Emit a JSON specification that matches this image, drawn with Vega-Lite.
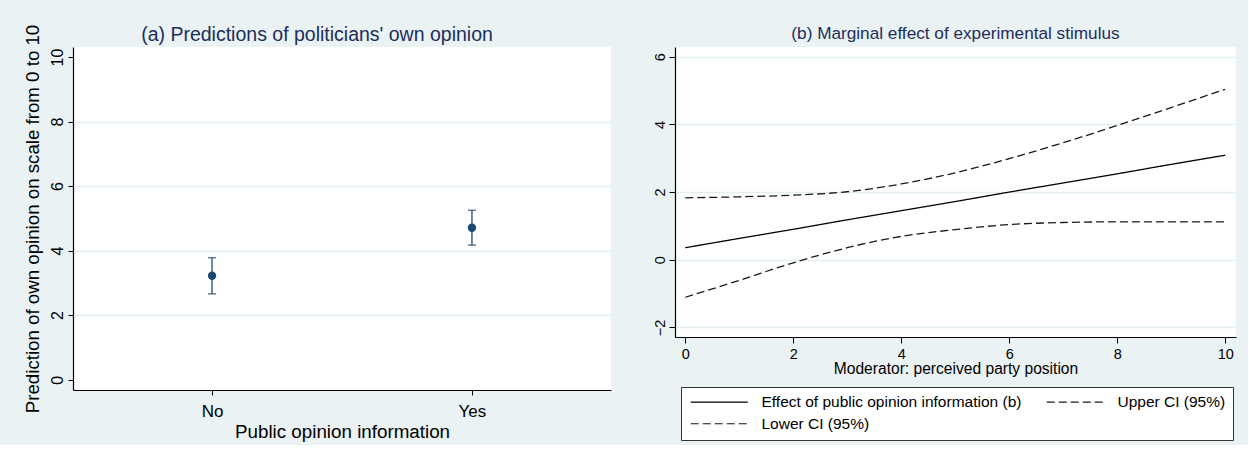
{
  "$schema": "https://vega.github.io/schema/vega-lite/v6.json",
  "background": "#EAF2F3",
  "padding": {"left": 23, "top": 24, "right": 12, "bottom": 4},
  "spacing": 41,
  "resolve": {"legend": {"color": "independent", "strokeDash": "independent"}},
  "config": {
    "font": "Liberation Sans",
    "view": {"stroke": null, "fill": "white"},
    "axis": {
      "domainColor": "black",
      "domainWidth": 1.2,
      "tickColor": "black",
      "labelColor": "black",
      "titleColor": "black",
      "titleFontWeight": "normal",
      "gridColor": "#E4EDEF",
      "gridWidth": 1.5
    },
    "title": {"color": "#1D2E5C", "fontWeight": "normal", "anchor": "middle"}
  },
  "hconcat": [
    {
      "width": 538,
      "height": 343,
      "title": {
        "text": "(a) Predictions of politicians' own opinion",
        "fontSize": 19.5,
        "frame": "group",
        "dx": -25,
        "dy": 23,
        "offset": 2
      },
      "data": {
        "values": [
          {"info": "No", "pred": 3.22, "lo": 2.66, "hi": 3.78},
          {"info": "Yes", "pred": 4.71, "lo": 4.17, "hi": 5.25}
        ]
      },
      "encoding": {
        "x": {
          "field": "info",
          "type": "nominal",
          "scale": {"type": "point", "padding": 0.535},
          "axis": {
            "title": "Public opinion information",
            "labelAngle": 0,
            "labelFontSize": 17,
            "titleFontSize": 18.8,
            "tickSize": 5,
            "labelPadding": 8,
            "titlePadding": 3,
            "grid": false
          }
        }
      },
      "layer": [
        {
          "mark": {"type": "rule", "color": "#3D6185", "strokeWidth": 1.5},
          "encoding": {
            "y": {
              "field": "lo",
              "type": "quantitative",
              "scale": {"domain": [-0.32, 10.31], "nice": false, "zero": false},
              "axis": {
                "title": "Prediction of own opinion on scale from 0 to 10",
                "values": [0, 2, 4, 6, 8, 10],
                "labelAngle": -90,
                "labelFontSize": 16,
                "titleFontSize": 18.7,
                "tickSize": 5,
                "labelPadding": 3,
                "titlePadding": 7,
                "grid": true,
                "gridOpacity": {"condition": {"test": "datum.value == 0 || datum.value == 10", "value": 0}, "value": 1}
              }
            },
            "y2": {"field": "hi"}
          }
        },
        {
          "mark": {"type": "tick", "color": "#1A476F", "size": 8, "thickness": 1.5},
          "encoding": {"y": {"field": "lo", "type": "quantitative"}}
        },
        {
          "mark": {"type": "tick", "color": "#1A476F", "size": 8, "thickness": 1.5},
          "encoding": {"y": {"field": "hi", "type": "quantitative"}}
        },
        {
          "mark": {"type": "point", "filled": true, "size": 70, "color": "#1A476F", "opacity": 1},
          "encoding": {"y": {"field": "pred", "type": "quantitative"}}
        }
      ]
    },
    {
      "width": 561,
      "height": 290,
      "title": {
        "text": "(b) Marginal effect of experimental stimulus",
        "fontSize": 17.2,
        "frame": "group",
        "offset": 5
      },
      "data": {
        "values": [
          {"pos": 0, "series": "Effect of public opinion information (b)", "effect": 0.355},
          {"pos": 1, "series": "Effect of public opinion information (b)", "effect": 0.63},
          {"pos": 2, "series": "Effect of public opinion information (b)", "effect": 0.9},
          {"pos": 3, "series": "Effect of public opinion information (b)", "effect": 1.18},
          {"pos": 4, "series": "Effect of public opinion information (b)", "effect": 1.45},
          {"pos": 5, "series": "Effect of public opinion information (b)", "effect": 1.72},
          {"pos": 6, "series": "Effect of public opinion information (b)", "effect": 2.0},
          {"pos": 7, "series": "Effect of public opinion information (b)", "effect": 2.27},
          {"pos": 8, "series": "Effect of public opinion information (b)", "effect": 2.54},
          {"pos": 9, "series": "Effect of public opinion information (b)", "effect": 2.82},
          {"pos": 10, "series": "Effect of public opinion information (b)", "effect": 3.09},
          {"pos": 0, "series": "Upper CI (95%)", "effect": 1.83},
          {"pos": 1, "series": "Upper CI (95%)", "effect": 1.86},
          {"pos": 2, "series": "Upper CI (95%)", "effect": 1.91},
          {"pos": 3, "series": "Upper CI (95%)", "effect": 2.01},
          {"pos": 4, "series": "Upper CI (95%)", "effect": 2.24},
          {"pos": 5, "series": "Upper CI (95%)", "effect": 2.57},
          {"pos": 6, "series": "Upper CI (95%)", "effect": 2.99},
          {"pos": 7, "series": "Upper CI (95%)", "effect": 3.46},
          {"pos": 8, "series": "Upper CI (95%)", "effect": 3.97},
          {"pos": 9, "series": "Upper CI (95%)", "effect": 4.5},
          {"pos": 10, "series": "Upper CI (95%)", "effect": 5.04},
          {"pos": 0, "series": "Lower CI (95%)", "effect": -1.11},
          {"pos": 1, "series": "Lower CI (95%)", "effect": -0.61},
          {"pos": 2, "series": "Lower CI (95%)", "effect": -0.09},
          {"pos": 3, "series": "Lower CI (95%)", "effect": 0.355},
          {"pos": 4, "series": "Lower CI (95%)", "effect": 0.69},
          {"pos": 5, "series": "Lower CI (95%)", "effect": 0.89},
          {"pos": 6, "series": "Lower CI (95%)", "effect": 1.04},
          {"pos": 7, "series": "Lower CI (95%)", "effect": 1.1},
          {"pos": 8, "series": "Lower CI (95%)", "effect": 1.12},
          {"pos": 9, "series": "Lower CI (95%)", "effect": 1.12},
          {"pos": 10, "series": "Lower CI (95%)", "effect": 1.12}
        ]
      },
      "mark": {"type": "line", "interpolate": "monotone", "strokeWidth": 1.3},
      "encoding": {
        "x": {
          "field": "pos",
          "type": "quantitative",
          "scale": {"domain": [-0.19, 10.2], "nice": false, "zero": false},
          "axis": {
            "title": "Moderator: perceived party position",
            "values": [0, 2, 4, 6, 8, 10],
            "labelAngle": 0,
            "labelFontSize": 14.5,
            "titleFontSize": 15.6,
            "tickSize": 6,
            "labelPadding": 4,
            "titlePadding": 1,
            "grid": false
          }
        },
        "y": {
          "field": "effect",
          "type": "quantitative",
          "scale": {"domain": [-2.285, 6.29], "nice": false, "zero": false},
          "axis": {
            "title": null,
            "values": [-2, 0, 2, 4, 6],
            "labelAngle": -90,
            "labelFontSize": 14.5,
            "tickSize": 6,
            "labelPadding": 2,
            "grid": true
          }
        },
        "color": {
          "field": "series",
          "type": "nominal",
          "scale": {
            "domain": ["Effect of public opinion information (b)", "Upper CI (95%)", "Lower CI (95%)"],
            "range": ["#000000", "#1a1a1a", "#1a1a1a"]
          },
          "legend": {
            "title": null,
            "orient": "none",
            "legendX": 6,
            "legendY": 340,
            "direction": "horizontal",
            "columns": 2,
            "symbolType": "M-1,0H10.4",
            "symbolSize": 100,
            "symbolStrokeWidth": 1.2,
            "labelFontSize": 15.5,
            "labelColor": "black",
            "labelLimit": 400,
            "labelOffset": 58,
            "columnPadding": 22,
            "rowPadding": 5,
            "padding": 7,
            "strokeColor": "#333333",
            "fillColor": "white"
          }
        },
        "strokeDash": {
          "field": "series",
          "type": "nominal",
          "scale": {
            "domain": ["Effect of public opinion information (b)", "Upper CI (95%)", "Lower CI (95%)"],
            "range": [[1, 0], [8, 4], [8, 4]]
          }
        }
      }
    }
  ]
}
